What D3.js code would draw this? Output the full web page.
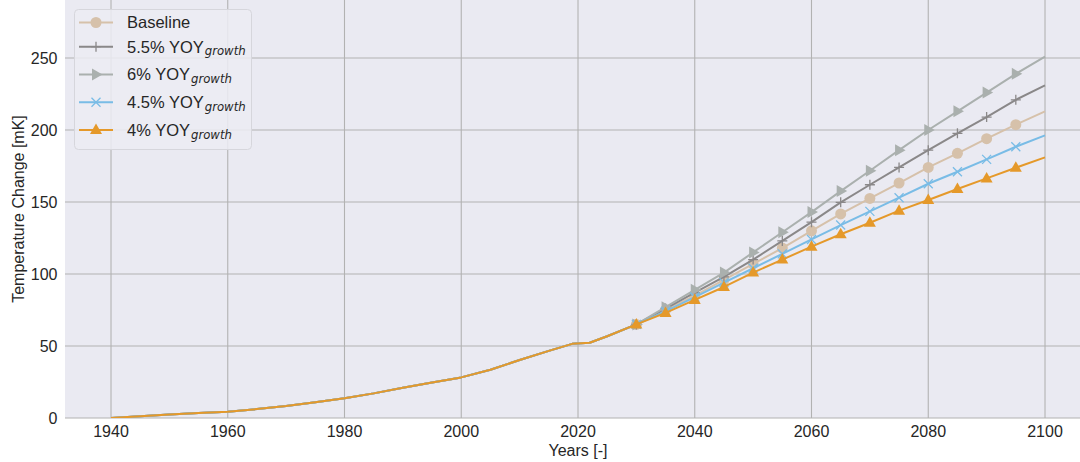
<!DOCTYPE html>
<html>
<head>
<meta charset="utf-8">
<script src="https://cdn.jsdelivr.net/npm/d3@7"></script>
<style>
  body { margin: 0; background: #fff; }
  svg { display: block; font-family: "Liberation Sans", Arial, sans-serif; }
</style>
</head>
<body>
<svg id="chart" width="1080" height="462"></svg>
<script>
// shared history up to 2030
const histYears = [1940, 1945, 1950, 1955, 1960, 1965, 1970, 1975, 1980, 1985, 1990, 1995, 2000, 2005, 2010, 2015, 2019, 2022, 2025, 2030];
const histValues = [0, 1.2, 2.5, 3.4, 4.4, 6.2, 8.3, 10.9, 13.7, 17.1, 21, 24.6, 28.2, 33.5, 40.3, 46.6, 51.5, 52.3, 56.8, 65];

// scenario years after 2030
const projYears = [2035, 2040, 2045, 2050, 2055, 2060, 2065, 2070, 2075, 2080, 2085, 2090, 2095, 2100];
const baseline = [75, 85, 96, 107, 118, 130, 141.7, 152.5, 163.2, 174, 183.8, 194, 203.7, 213];
const growth55 = [76, 87, 98, 110, 123, 136, 149.8, 162, 174, 186, 197.7, 209, 221, 231];
const growth6 = [77, 89, 101, 115, 129, 143, 157.6, 171.7, 186, 200, 213, 226, 239, 251];
const growth45 = [74, 84, 94, 104, 114, 124, 134, 143.5, 153, 162.7, 171, 179.6, 188.4, 196.3];
const growth4 = [73, 82, 91, 101, 110, 119, 127.6, 135.6, 144, 151.4, 159, 166.4, 173.8, 181];

const markerStart = 2030;
const markerEnd = 2095;

const yTicks = [0, 50, 100, 150, 200, 250];
const xTicks = [1940, 1960, 1980, 2000, 2020, 2040, 2060, 2080, 2100];

const seriesDefs = [
  { name: 'Baseline', sub: null, values: baseline, color: '#d6c1aa', marker: 'circle' },
  { name: '5.5% YOY', sub: 'growth', values: growth55, color: '#8a8889', marker: 'plus' },
  { name: '6% YOY', sub: 'growth', values: growth6, color: '#aab0ae', marker: 'tri-right' },
  { name: '4.5% YOY', sub: 'growth', values: growth45, color: '#79bce6', marker: 'x' },
  { name: '4% YOY', sub: 'growth', values: growth4, color: '#e5992a', marker: 'tri-up' }
];

const width = 1080, height = 462;
const plotLeft = 65, plotBottom = 418;

const x = d3.scaleLinear().domain([1932, 2108]).range([64.3, 64.3 + 176 * 5.8375]);
const y = d3.scaleLinear().domain([0, 290.3]).range([plotBottom, 0]);

const svg = d3.select('#chart');

svg.append('rect')
  .attr('x', plotLeft).attr('y', 0)
  .attr('width', width - plotLeft).attr('height', plotBottom)
  .attr('fill', '#eaeaf2');

svg.append('clipPath').attr('id', 'plotClip')
  .append('rect')
  .attr('x', plotLeft).attr('y', 0)
  .attr('width', width - plotLeft).attr('height', plotBottom);

// grid
const grid = svg.append('g').attr('stroke', '#b2b2b2').attr('stroke-width', 1.1);
grid.selectAll('line.gx').data(xTicks).enter().append('line')
  .attr('x1', d => x(d)).attr('x2', d => x(d))
  .attr('y1', 0).attr('y2', plotBottom);
grid.selectAll('line.gy').data(yTicks).enter().append('line')
  .attr('x1', plotLeft).attr('x2', width)
  .attr('y1', d => y(d)).attr('y2', d => y(d));

// tick labels
svg.append('g').selectAll('text').data(xTicks).enter().append('text')
  .attr('x', d => x(d)).attr('y', 437)
  .attr('text-anchor', 'middle')
  .attr('font-size', 16).attr('fill', '#262626')
  .text(d => d);

svg.append('g').selectAll('text').data(yTicks).enter().append('text')
  .attr('x', 57.5).attr('y', d => y(d))
  .attr('dy', '0.36em')
  .attr('text-anchor', 'end')
  .attr('font-size', 16).attr('fill', '#262626')
  .text(d => d);

svg.append('text')
  .attr('x', x(2020)).attr('y', 455.5)
  .attr('text-anchor', 'middle')
  .attr('font-size', 16).attr('fill', '#262626')
  .text('Years [-]');

svg.append('text')
  .attr('transform', `translate(24, ${plotBottom / 2}) rotate(-90)`)
  .attr('text-anchor', 'middle')
  .attr('font-size', 16).attr('fill', '#262626')
  .text('Temperature Change [mK]');

function markerPath(sel, type, color) {
  if (type === 'circle') {
    sel.append('circle').attr('r', 5.5).attr('fill', color);
  } else if (type === 'plus') {
    sel.append('path').attr('d', 'M-5,0H5M0,-5V5')
      .attr('stroke', color).attr('stroke-width', 1.3).attr('fill', 'none');
  } else if (type === 'x') {
    sel.append('path').attr('d', 'M-4.5,-4.5L4.5,4.5M-4.5,4.5L4.5,-4.5')
      .attr('stroke', color).attr('stroke-width', 1.3).attr('fill', 'none');
  } else if (type === 'tri-right') {
    sel.append('path').attr('d', 'M6.5,0L-4,-6L-4,6Z').attr('fill', color);
  } else if (type === 'tri-up') {
    sel.append('path').attr('d', 'M0,-6.5L6,4L-6,4Z').attr('fill', color);
  }
}

const line = d3.line().x(d => x(d[0])).y(d => y(d[1]));
const plot = svg.append('g').attr('clip-path', 'url(#plotClip)');

seriesDefs.forEach(s => {
  const pts = histYears.map((yr, i) => [yr, histValues[i]])
    .concat(projYears.map((yr, i) => [yr, s.values[i]]));
  const g = plot.append('g');
  g.append('path')
    .attr('d', line(pts))
    .attr('fill', 'none')
    .attr('stroke', s.color)
    .attr('stroke-width', 2)
    .attr('stroke-linejoin', 'round');
  const marks = pts.filter(p => p[0] >= markerStart && p[0] <= markerEnd && p[0] % 5 === 0);
  g.selectAll('g.m').data(marks).enter().append('g')
    .attr('transform', d => `translate(${x(d[0])},${y(d[1])})`)
    .each(function () { markerPath(d3.select(this), s.marker, s.color); });
});

// legend
const legend = svg.append('g');
legend.append('rect')
  .attr('x', 74.5).attr('y', 9.5).attr('width', 177).attr('height', 140)
  .attr('rx', 4)
  .attr('fill', '#ececf3').attr('fill-opacity', 0.85)
  .attr('stroke', '#d6d6dc');

// rows with a subscript sit a little further apart
const rowY = i => i === 0 ? 22.5 : 46.7 + (i - 1) * 27.8;
const rows = legend.selectAll('g.row').data(seriesDefs).enter().append('g')
  .attr('transform', (d, i) => `translate(0, ${rowY(i)})`);
rows.append('line')
  .attr('x1', 79).attr('x2', 113).attr('y1', 0).attr('y2', 0)
  .attr('stroke', d => d.color).attr('stroke-width', 2);
rows.append('g').attr('transform', 'translate(96,0)')
  .each(function (d) { markerPath(d3.select(this), d.marker, d.color); });
const labels = rows.append('text')
  .attr('x', 127).attr('y', 0).attr('dy', '0.36em')
  .attr('font-size', 16.5).attr('fill', '#262626');
labels.append('tspan').text(d => d.name);
labels.filter(d => d.sub).append('tspan')
  .attr('font-family', '"DejaVu Sans", sans-serif')
  .attr('font-size', 11.7).attr('font-style', 'italic').attr('dy', 2.5).attr('dx', 1)
  .text(d => d.sub);
</script>
</body>
</html>
